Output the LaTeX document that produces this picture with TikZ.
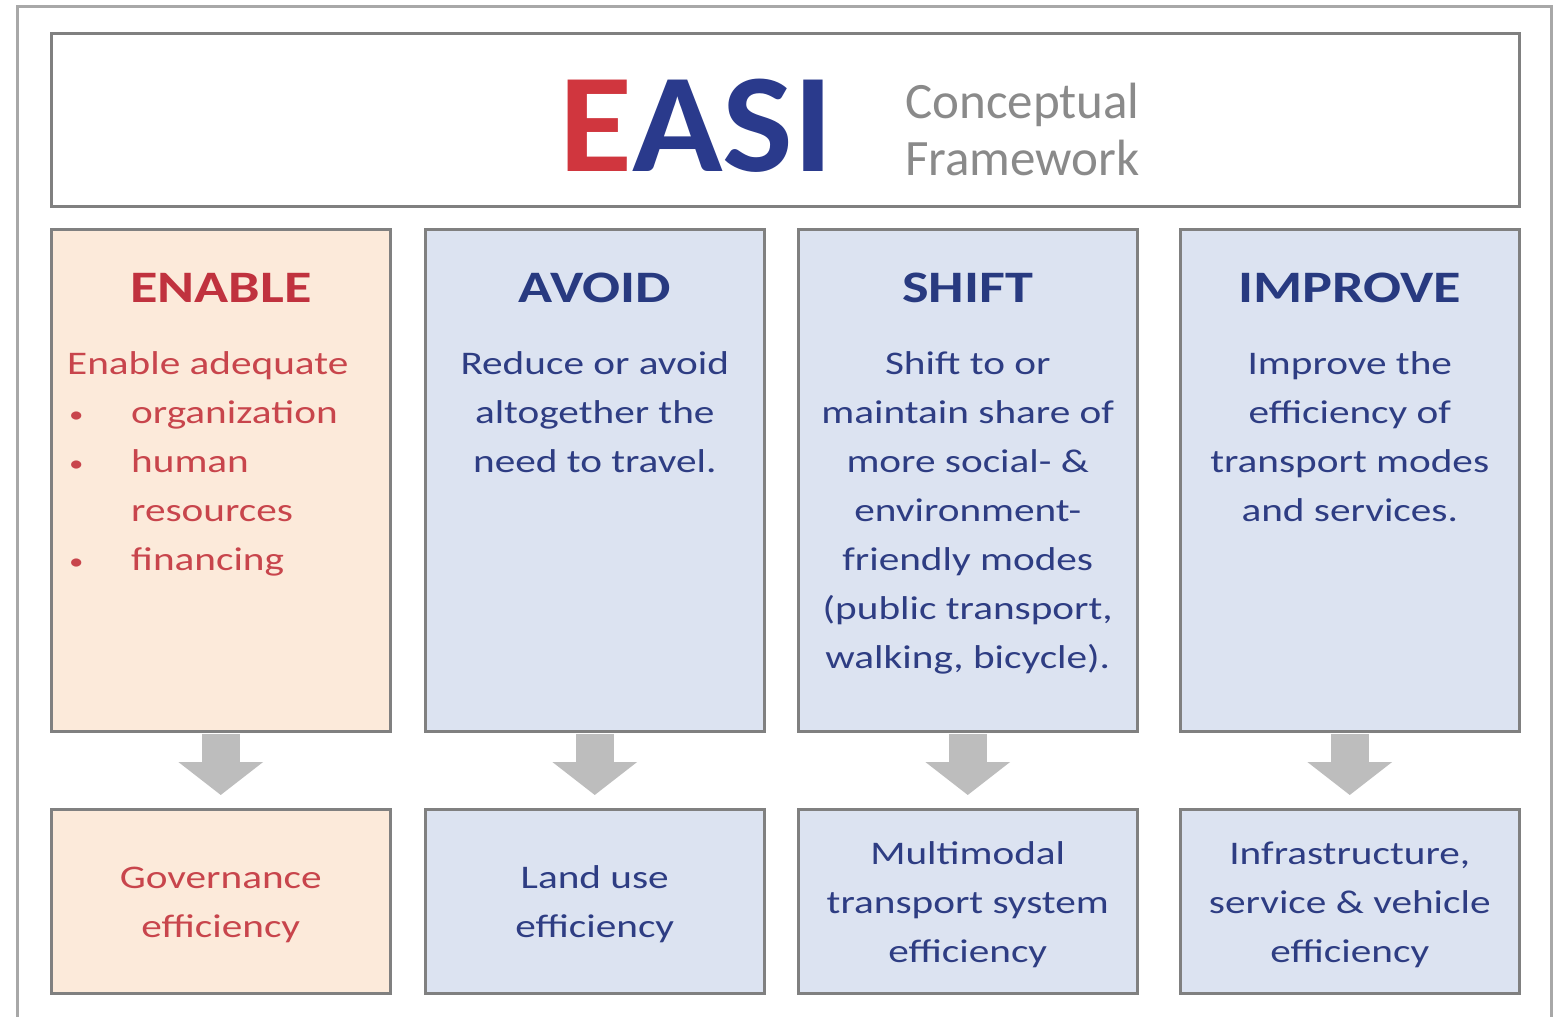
\documentclass[tikz,border=0pt]{standalone}
\usepackage{fontspec}
\setmainfont{Carlito}
\newfontfamily\stretchfont[FakeStretch=1.25]{Carlito}
\newfontfamily\easifont[FakeStretch=1.06]{Carlito}
\usetikzlibrary{arrows.meta}
\definecolor{easired}{HTML}{D0363E}
\definecolor{easiblue}{HTML}{2A3A8C}
\definecolor{headred}{HTML}{C0323E}
\definecolor{bodyred}{HTML}{C8454C}
\definecolor{headblue}{HTML}{283A80}
\definecolor{bodyblue}{HTML}{2E3D83}
\definecolor{peach}{HTML}{FCEADA}
\definecolor{paleblue}{HTML}{DCE3F1}
\definecolor{bordergray}{HTML}{808080}
\definecolor{framegray}{HTML}{A8A8A8}
\definecolor{arrowgray}{HTML}{BDBDBD}
\definecolor{subgray}{HTML}{8A8A8A}
\newcommand{\mybullet}{\makebox[64pt][l]{\hspace*{2pt}\raisebox{1pt}{\scalebox{0.7}{•}}}}
\tikzset{
  box/.style={draw=bordergray, line width=2.5pt, rectangle, inner sep=0pt, anchor=north west},
  colbox/.style={box, minimum width=339pt, minimum height=502pt},
  resbox/.style={box, minimum width=339pt, minimum height=184pt},
  headtext/.style={font=\stretchfont\bfseries\fontsize{45}{54}\selectfont, anchor=base, inner sep=0pt},
  bodytext/.style={font=\stretchfont\fontsize{33}{49}\selectfont, anchor=north, inner sep=0pt, align=center},
  subtext/.style={anchor=base west, inner sep=0pt, text=subgray, font=\fontsize{51}{57}\selectfont},
  flowarrow/.style={draw=arrowgray, line width=38pt, -{Triangle[length=33pt 0 0, width=83pt 0 0]}, shorten >=13pt, shorten <=1.5pt}
}
\begin{document}
\begin{tikzpicture}[x=1pt, y=-1pt]
\useasboundingbox (0,0) rectangle (1555,1017);
\fill[white] (0,0) rectangle (1555,1017);
\clip (0,0) rectangle (1555,1017);
% outer frame
\draw[framegray, line width=3pt] (17,1040) -- (17,6) -- (1551,6) -- (1551,1040);
% title box
\node[box, fill=white, minimum width=1468pt, minimum height=173pt] (title) at (50,32) {};
\node[anchor=base west, inner sep=0pt, font=\easifont\bfseries\fontsize{141}{141}\selectfont] (easi) at (559,171) {\textcolor{easired}{E}\textcolor{easiblue}{ASI}};
\node[subtext] (sub1) at (905,118) {Conceptual};
\node[subtext] (sub2) at (905,175) {Framework};
% column boxes
\node[colbox, fill=peach] (enable) at (50,228) {};
\node[colbox, fill=paleblue] (avoid) at (424,228) {};
\node[colbox, fill=paleblue] (shift) at (797,228) {};
\node[colbox, fill=paleblue] (improve) at (1179,228) {};
% result boxes
\node[resbox, fill=peach] (gov) at (50,808) {};
\node[resbox, fill=paleblue] (land) at (424,808) {};
\node[resbox, fill=paleblue] (multi) at (797,808) {};
\node[resbox, fill=paleblue] (infra) at (1179,808) {};
% arrows
\draw[flowarrow] (enable.south) -- (gov.north);
\draw[flowarrow] (avoid.south) -- (land.north);
\draw[flowarrow] (shift.south) -- (multi.north);
\draw[flowarrow] (improve.south) -- (infra.north);
% headings
\node[headtext, text=headred] (h1) at (enable.north |- 0,302) {ENABLE};
\node[headtext, text=headblue] (h2) at (avoid.north |- 0,302) {AVOID};
\node[headtext, text=headblue] (h3) at (shift.north |- 0,302) {SHIFT};
\node[headtext, text=headblue] (h4) at (improve.north |- 0,302) {IMPROVE};
% bodies
\node[bodytext, anchor=north west, align=left, text=bodyred] (b1) at (67,339.7) {\strut Enable adequate\\
\mybullet organization\\
\mybullet human\\
\makebox[64pt][l]{}resources\\
\mybullet financing};
\node[bodytext, text=bodyblue] (b2) at (avoid.north |- 0,339.7) {\strut Reduce or avoid\\altogether the\\need to travel.};
\node[bodytext, text=bodyblue] (b3) at (shift.north |- 0,339.7) {\strut Shift to or\\maintain share of\\more social- \&\\environment-\\friendly modes\\(public transport,\\walking, bicycle).};
\node[bodytext, text=bodyblue] (b4) at (improve.north |- 0,339.7) {\strut Improve the\\efficiency of\\transport modes\\and services.};
% result texts
\node[bodytext, text=bodyred] (r1) at (gov.north |- 0,853.7) {\strut Governance\\efficiency};
\node[bodytext, text=bodyblue] (r2) at (land.north |- 0,853.7) {\strut Land use\\efficiency};
\node[bodytext, text=bodyblue] (r3) at (multi.north |- 0,829.7) {\strut Multimodal\\transport system\\efficiency};
\node[bodytext, text=bodyblue] (r4) at (infra.north |- 0,829.7) {\strut Infrastructure,\\service \& vehicle\\efficiency};
\end{tikzpicture}
\end{document}
